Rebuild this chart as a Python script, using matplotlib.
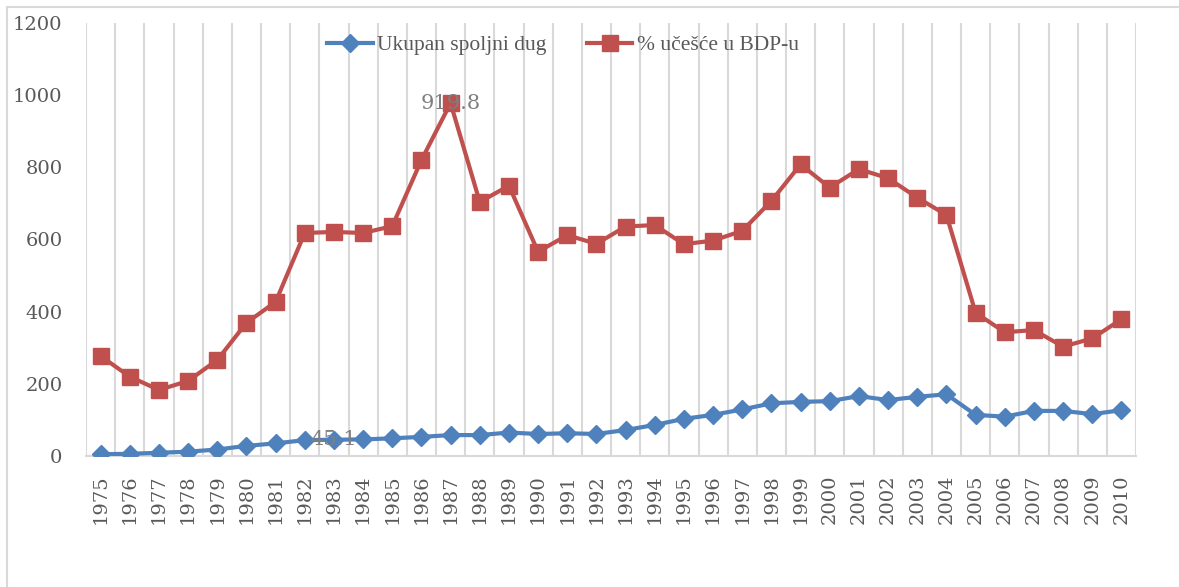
import matplotlib
matplotlib.use('Agg')
import matplotlib.pyplot as plt
from matplotlib.lines import Line2D
from matplotlib.patches import Rectangle

# data
years = list(range(1975, 2011))
spoljni_dug = [5, 6, 9, 12, 18, 28, 35, 44, 45.1, 46, 49, 53, 58, 58, 65, 61,
               63, 61, 72, 86, 103, 114, 129, 146, 150, 152, 166, 155, 164, 171,
               114, 109, 125, 125, 116, 127]
ucesce_bdp = [277, 220, 183, 208, 266, 369, 427, 618, 621, 618, 637, 820, 978,
              704, 749, 566, 612, 588, 636, 640, 587, 597, 624, 707, 808, 744,
              795, 770, 716, 668, 397, 343, 349, 303, 326, 379]
series_names = ['Ukupan spoljni dug', '% učešće u BDP-u']
y_ticks = [0, 200, 400, 600, 800, 1000, 1200]

blue = '#4F81BD'
red = '#C0504D'
grid = '#D9D9D9'
txt = '#595959'

plt.rcParams['font.family'] = ['DejaVu Serif']

fig = plt.figure(figsize=(11.79, 5.87), dpi=100)
# light outer frame of the chart (cut off on the right and bottom)
fig.patches.append(Rectangle((7 / 1179, -0.1), 1.1, 1.1 - 7 / 587,
                             transform=fig.transFigure, fill=False,
                             edgecolor=grid, linewidth=1.5))
ax = fig.add_axes([86 / 1179, 1 - 456 / 587, 1050 / 1179, 433 / 587])

x = range(len(years))
ax.plot(x, spoljni_dug, color=blue, lw=3, marker='D', ms=9.5,
        label=series_names[0], zorder=3)
ax.plot(x, ucesce_bdp, color=red, lw=3, marker='s', ms=11.5,
        label=series_names[1], zorder=3)

# category gridlines between the ticks
for k in range(len(years) + 1):
    ax.axvline(k - 0.5, color=grid, lw=1.5, zorder=0)

ax.set_xlim(-0.5, len(years) - 0.5)
ax.set_ylim(0, 1200)
ax.set_yticks(y_ticks)
ax.set_xticks(list(x))
ax.set_xticklabels([str(y) for y in years], rotation=90, va='top', ha='center')
ax.tick_params(axis='both', length=0, labelcolor=txt, labelsize=14)
ax.tick_params(axis='y', pad=17)
ax.tick_params(axis='x', pad=13)
for s in ['top', 'left', 'right']:
    ax.spines[s].set_visible(False)
ax.spines['bottom'].set_color(grid)
ax.spines['bottom'].set_linewidth(1.5)

# data labels
ax.text(8, spoljni_dug[8], '45.1', color='#7F7F7F', fontsize=15,
        ha='center', va='center', zorder=4)
ax.text(12, ucesce_bdp[12], '919.8', color='#7F7F7F', fontsize=15,
        ha='center', va='center', zorder=4)

handles = [Line2D([], [], color=blue, lw=3, marker='D', ms=9.5),
           Line2D([], [], color=red, lw=3, marker='s', ms=11.5)]
fig.legend(handles, series_names, loc='center',
           bbox_to_anchor=(563 / 1179, 1 - 45 / 587), ncol=2, frameon=False,
           prop={'family': 'Liberation Serif', 'size': 15.5},
           handlelength=2.1, columnspacing=1.9, handletextpad=0.2,
           labelcolor=txt)

fig.savefig('out.png', dpi=100)
